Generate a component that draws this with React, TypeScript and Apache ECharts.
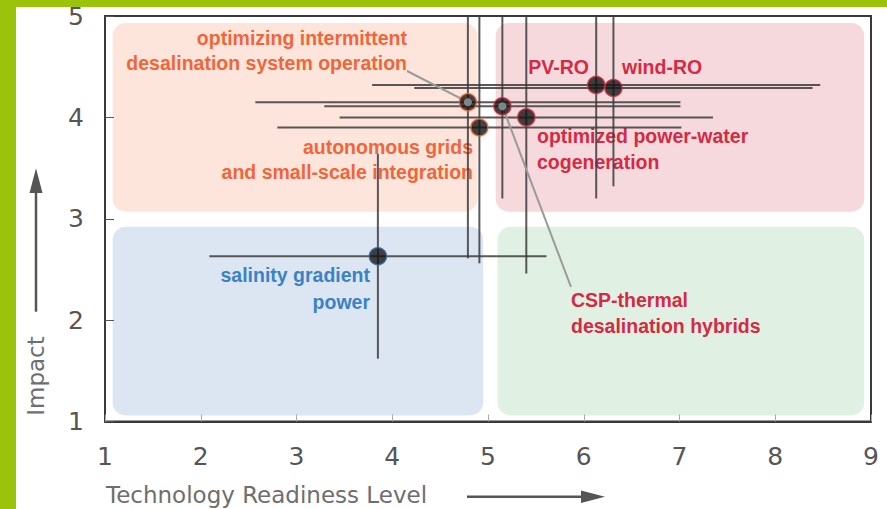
import React, { useEffect, useRef } from "react";
import * as echarts from "echarts";

// ---- data ----
const names = [
  "PV-RO",
  "wind-RO",
  "optimizing intermittent desalination system operation",
  "CSP-thermal desalination hybrids",
  "optimized power-water cogeneration",
  "autonomous grids and small-scale integration",
  "salinity gradient power",
];
const trl = [6.13, 6.31, 4.79, 5.15, 5.4, 4.91, 3.85];
const impact = [4.32, 4.29, 4.15, 4.11, 4.0, 3.9, 2.63];
const trlErr = [2.34, 2.08, 2.22, 1.86, 1.95, 2.11, 1.76];
const impactErr = [1.12, 0.97, 1.54, 0.91, 1.54, 1.34, 1.01];
const group = ["red", "red", "orange", "red", "red", "orange", "blue"];
const hollow = [false, false, true, true, false, false, false];

const xTicks = [1, 2, 3, 4, 5, 6, 7, 8, 9];
const yTicks = [1, 2, 3, 4, 5];

// quadrant background areas (in axis units)
const regionNames = ["orange", "pink", "blue", "green"];
const regionX0 = [1.08, 5.08, 1.08, 5.1];
const regionX1 = [4.89, 8.93, 4.95, 8.93];
const regionY0 = [3.07, 3.07, 1.06, 1.06];
const regionY1 = [4.93, 4.93, 2.92, 2.92];

// ---- styles ----
const regionFill: Record<string, string> = {
  orange: "#fde5dc",
  pink: "#f6d9dc",
  blue: "#dce6f2",
  green: "#e0f1e3",
};
const textColor: Record<string, string> = {
  orange: "#f1653a",
  red: "#d42a44",
  blue: "#3b82c4",
};
const borderColor: Record<string, string> = {
  orange: "#f1653a",
  red: "#c8283c",
  blue: "#2f5f95",
};
const LABEL_FONT = '"Liberation Sans", Arial, sans-serif';
const AXIS_FONT = '"DejaVu Sans", sans-serif';
const LABEL_SIZE = 19.5;

export default function App() {
  const ref = useRef<HTMLDivElement>(null);

  useEffect(() => {
    document.body.style.margin = "0";
    const chart = echarts.init(ref.current!, null, { renderer: "svg" });

    const regionData = regionNames.map((n, i) => [
      regionX0[i],
      regionX1[i],
      regionY0[i],
      regionY1[i],
    ]);
    const errData = names.map((n, i) => [trl[i], impact[i], trlErr[i], impactErr[i]]);

    const option: any = {
      animation: false,
      backgroundColor: "#ffffff",
      grid: {
        left: 105,
        right: 16,
        top: 16,
        bottom: 87.5,
        show: true,
        borderColor: "#3a3a3a",
        borderWidth: 2,
        backgroundColor: "transparent",
      },
      xAxis: {
        type: "value",
        min: xTicks[0],
        max: xTicks[xTicks.length - 1],
        interval: 1,
        splitLine: { show: false },
        axisLine: { show: true, lineStyle: { color: "#3a3a3a", width: 2 } },
        axisTick: { show: true, inside: true, length: 7, lineStyle: { color: "#aaaaaa", width: 1 } },
        axisLabel: {
          color: "#555",
          fontSize: 25,
          fontFamily: AXIS_FONT,
          margin: 22,
        },
      },
      yAxis: {
        type: "value",
        min: yTicks[0],
        max: yTicks[yTicks.length - 1],
        interval: 1,
        splitLine: { show: false },
        axisLine: { show: true, lineStyle: { color: "#3a3a3a", width: 2 } },
        axisTick: { show: true, inside: true, length: 9, lineStyle: { color: "#555", width: 1 } },
        axisLabel: {
          color: "#555",
          fontSize: 25,
          fontFamily: AXIS_FONT,
          margin: 21,
          padding: [9, 0, 0, 0],
        },
      },
      series: [
        {
          type: "custom",
          name: "regions",
          z: 0,
          silent: true,
          encode: { x: [0, 1], y: [2, 3] },
          data: regionData,
          renderItem: (params: any, api: any) => {
            const i = params.dataIndex;
            const p0 = api.coord([api.value(0), api.value(3)]);
            const p1 = api.coord([api.value(1), api.value(2)]);
            return {
              type: "rect",
              shape: { x: p0[0], y: p0[1], width: p1[0] - p0[0], height: p1[1] - p0[1], r: 13 },
              style: { fill: regionFill[regionNames[i]] },
            };
          },
        },
        {
          type: "custom",
          name: "errorbars",
          z: 2,
          silent: true,
          encode: { x: 0, y: 1 },
          data: errData,
          renderItem: (params: any, api: any) => {
            const cs = params.coordSys;
            const x = api.value(0);
            const y = api.value(1);
            const xe = api.value(2);
            const ye = api.value(3);
            const l = api.coord([x - xe, y]);
            const r = api.coord([x + xe, y]);
            const t = api.coord([x, y + ye]);
            const b = api.coord([x, y - ye]);
            const clampX = (v: number) => Math.max(cs.x, Math.min(cs.x + cs.width, v));
            const clampY = (v: number) => Math.max(cs.y, Math.min(cs.y + cs.height, v));
            const st = { stroke: "rgba(60,60,60,0.85)", lineWidth: 2 };
            return {
              type: "group",
              children: [
                {
                  type: "line",
                  shape: { x1: clampX(l[0]), y1: l[1], x2: clampX(r[0]), y2: r[1] },
                  style: st,
                },
                {
                  type: "line",
                  shape: { x1: t[0], y1: clampY(t[1]), x2: b[0], y2: clampY(b[1]) },
                  style: st,
                },
              ],
            };
          },
        },
        {
          type: "scatter",
          name: "technologies",
          z: 4,
          symbolSize: 17,
          data: names.map((n, i) => ({
            name: n,
            value: [trl[i], impact[i]],
            itemStyle: { color: "#141414", borderColor: borderColor[group[i]], borderWidth: 1.5 },
          })),
        },
        {
          type: "scatter",
          name: "centers",
          z: 5,
          symbolSize: 8,
          silent: true,
          itemStyle: { color: "#9a9a9a" },
          data: names
            .map((n, i) => (hollow[i] ? [trl[i], impact[i]] : null))
            .filter((d) => d !== null),
        },
      ],
      graphic: {
        elements: [
          { type: "rect", id: "gl", z: 20, shape: { x: 0, y: 0, width: 16, height: 509 }, style: { fill: "#9cc30c" } },
          { type: "rect", id: "gt", z: 20, shape: { x: 0, y: 0, width: 887, height: 7 }, style: { fill: "#9cc30c" } },
          // labels
          {
            type: "text", id: "l1", z: 1,
            style: {
              text: "optimizing intermittent\ndesalination system operation",
              x: 407, y: 50.8, align: "right", verticalAlign: "middle",
              fill: textColor.orange, fontSize: LABEL_SIZE, fontWeight: "bold", fontFamily: LABEL_FONT, lineHeight: 25,
            },
          },
          {
            type: "text", id: "l2", z: 1,
            style: {
              text: "autonomous grids\nand small-scale integration",
              x: 473, y: 159.2, align: "right", verticalAlign: "middle",
              fill: textColor.orange, fontSize: LABEL_SIZE, fontWeight: "bold", fontFamily: LABEL_FONT, lineHeight: 25,
            },
          },
          {
            type: "text", id: "l3", z: 1,
            style: {
              text: "PV-RO", x: 589, y: 66.7, align: "right", verticalAlign: "middle",
              fill: textColor.red, fontSize: LABEL_SIZE, fontWeight: "bold", fontFamily: LABEL_FONT,
            },
          },
          {
            type: "text", id: "l4", z: 1,
            style: {
              text: "wind-RO", x: 622, y: 66.7, align: "left", verticalAlign: "middle",
              fill: textColor.red, fontSize: LABEL_SIZE, fontWeight: "bold", fontFamily: LABEL_FONT,
            },
          },
          {
            type: "text", id: "l5", z: 1,
            style: {
              text: "optimized power-water\ncogeneration", x: 537, y: 148.8, align: "left", verticalAlign: "middle",
              fill: textColor.red, fontSize: LABEL_SIZE, fontWeight: "bold", fontFamily: LABEL_FONT, lineHeight: 25.5,
            },
          },
          {
            type: "text", id: "l6", z: 1,
            style: {
              text: "CSP-thermal\ndesalination hybrids", x: 571, y: 313, align: "left", verticalAlign: "middle",
              fill: textColor.red, fontSize: LABEL_SIZE, fontWeight: "bold", fontFamily: LABEL_FONT, lineHeight: 26,
            },
          },
          {
            type: "text", id: "l7", z: 1,
            style: {
              text: "salinity gradient\npower", x: 370, y: 288.3, align: "right", verticalAlign: "middle",
              fill: textColor.blue, fontSize: LABEL_SIZE, fontWeight: "bold", fontFamily: LABEL_FONT, lineHeight: 26.5,
            },
          },
          // axis names
          {
            type: "text", id: "xname", z: 10,
            style: {
              text: "Technology Readiness Level", x: 106, y: 495, align: "left", verticalAlign: "middle",
              fill: "#6e6e6e", fontSize: 23, fontFamily: AXIS_FONT,
            },
          },
          {
            type: "text", id: "yname", z: 10, x: 36, y: 376, rotation: Math.PI / 2,
            style: {
              text: "Impact", x: 0, y: 0, align: "center", verticalAlign: "middle",
              fill: "#6e6e6e", fontSize: 23, fontFamily: AXIS_FONT,
            },
          },
          // axis arrows
          { type: "line", id: "xa", z: 10, shape: { x1: 467, y1: 496.7, x2: 584, y2: 496.7 }, style: { stroke: "#555", lineWidth: 2.5 } },
          { type: "polygon", id: "xah", z: 10, shape: { points: [[581, 490.5], [605, 496.7], [581, 502.9]] }, style: { fill: "#555" } },
          { type: "line", id: "ya", z: 10, shape: { x1: 36, y1: 311.7, x2: 36, y2: 191 }, style: { stroke: "#555", lineWidth: 2.5 } },
          { type: "polygon", id: "yah", z: 10, shape: { points: [[29.5, 193], [36, 168.3], [42.5, 193]] }, style: { fill: "#555" } },
        ],
      },
    };

    chart.setOption(option);

    // leader lines from labels to their dots (dot positions via the chart's scales)
    const pOpt = chart.convertToPixel({ gridIndex: 0 }, [trl[2], impact[2]]) as number[];
    const pCsp = chart.convertToPixel({ gridIndex: 0 }, [trl[3], impact[3]]) as number[];
    chart.setOption({
      graphic: {
        elements: [
          {
            type: "line", id: "lead1", z: 3,
            shape: { x1: 407, y1: 71, x2: pOpt[0], y2: pOpt[1] },
            style: { stroke: "#9a9a9a", lineWidth: 2 },
          },
          {
            type: "line", id: "lead2", z: 3,
            shape: { x1: pCsp[0], y1: pCsp[1], x2: 571, y2: 287 },
            style: { stroke: "#9a9a9a", lineWidth: 2 },
          },
        ],
      },
    });

    return () => chart.dispose();
  }, []);

  return (
    <div
      ref={ref}
      style={{ position: "absolute", left: 0, top: 0, width: 887, height: 509, background: "#fff" }}
    />
  );
}
